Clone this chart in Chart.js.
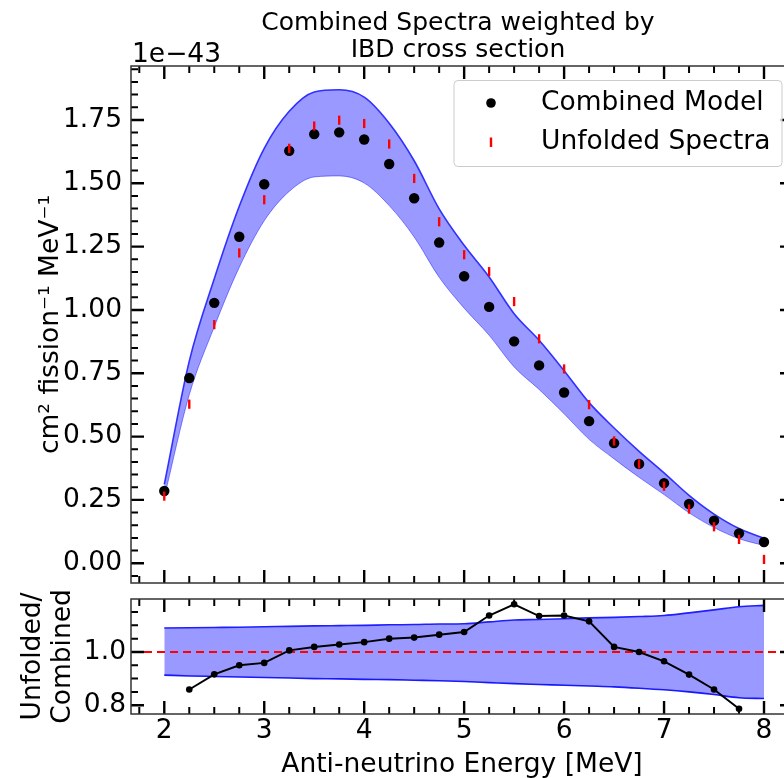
<!DOCTYPE html>
<html>
<head>
<meta charset="utf-8">
<script src="https://cdn.jsdelivr.net/npm/chart.js@4.4.1/dist/chart.umd.min.js"></script>
<style>
  html, body { margin: 0; padding: 0; background: #fff; overflow: hidden; }
  #wrap { position: relative; width: 784px; height: 778px; overflow: hidden; }
  #spectra { position: absolute; left: 0; top: 0; }
  #ratio { position: absolute; left: 0; top: 590px; }
</style>
</head>
<body>
<div id="wrap">
  <canvas id="spectra" width="800" height="590" style="width:800px;height:590px"></canvas>
  <canvas id="ratio" width="800" height="196" style="width:800px;height:196px"></canvas>
</div>
<script>
// energies in MeV, spectra in units of 1e-43 cm^2 fission^-1 MeV^-1
const energies = [2.0, 2.25, 2.5, 2.75, 3.0, 3.25, 3.5, 3.75, 4.0, 4.25, 4.5, 4.75, 5.0,
  5.25, 5.5, 5.75, 6.0, 6.25, 6.5, 6.75, 7.0, 7.25, 7.5, 7.75, 8.0];
const combinedModel = [0.285, 0.731, 1.028, 1.289, 1.496, 1.628, 1.694, 1.701, 1.673, 1.576,
  1.441, 1.266, 1.133, 1.012, 0.876, 0.781, 0.674, 0.561, 0.474, 0.392, 0.316, 0.234,
  0.168, 0.118, 0.084];
const unfoldedSpectra = [0.265, 0.628, 0.942, 1.225, 1.435, 1.638, 1.726, 1.749, 1.736, 1.655,
  1.519, 1.348, 1.218, 1.151, 1.033, 0.886, 0.767, 0.626, 0.483, 0.392, 0.304, 0.214,
  0.144, 0.094, 0.015];
const bandUpper = [0.311, 0.798, 1.123, 1.409, 1.638, 1.784, 1.860, 1.869, 1.840, 1.737,
  1.589, 1.399, 1.255, 1.130, 0.985, 0.880, 0.760, 0.634, 0.534, 0.442, 0.357, 0.268,
  0.194, 0.137, 0.099];
const bandLower = [0.260, 0.665, 0.933, 1.168, 1.352, 1.468, 1.525, 1.529, 1.501, 1.412,
  1.288, 1.129, 1.007, 0.900, 0.775, 0.686, 0.590, 0.489, 0.412, 0.339, 0.271, 0.199,
  0.141, 0.097, 0.070];

const ratioEnergies = [2.25, 2.5, 2.75, 3.0, 3.25, 3.5, 3.75, 4.0, 4.25, 4.5, 4.75, 5.0,
  5.25, 5.5, 5.75, 6.0, 6.25, 6.5, 6.75, 7.0, 7.25, 7.5, 7.75];
const ratioValues = [0.859, 0.916, 0.950, 0.959, 1.006, 1.019, 1.028, 1.037, 1.050, 1.054,
  1.065, 1.075, 1.137, 1.179, 1.135, 1.137, 1.115, 1.019, 1.000, 0.965, 0.915, 0.859, 0.787];
const ratioBandUpper = [1.090, 1.091, 1.092, 1.093, 1.095, 1.096, 1.098, 1.099, 1.100, 1.102,
  1.103, 1.105, 1.106, 1.113, 1.120, 1.122, 1.125, 1.128, 1.130, 1.133, 1.137, 1.147,
  1.158, 1.170, 1.175];
const ratioBandLower = [0.913, 0.910, 0.908, 0.906, 0.904, 0.902, 0.900, 0.899, 0.897, 0.896,
  0.894, 0.892, 0.889, 0.885, 0.881, 0.878, 0.875, 0.872, 0.869, 0.864, 0.858, 0.850,
  0.840, 0.828, 0.825];
const ratioReference = 1.0;

const energyTicks = [2, 3, 4, 5, 6, 7, 8];
const spectraTicks = [0, 0.25, 0.5, 0.75, 1.0, 1.25, 1.5, 1.75];
const ratioTicks = [0.8, 1.0];

const X_MIN = 1.667, X_MAX = 8.29;
const FONT = 'DejaVu Sans';
const FS = 26.5;

function toXY(xs, ys) {
  return xs.map((x, i) => ({ x: x, y: ys[i] }));
}

function noPadding(s) {
  s.paddingTop = 0; s.paddingBottom = 0; s.paddingLeft = 0; s.paddingRight = 0;
}

// inward ticks on all four sides plus the frame, matplotlib style
function frameTicks(xMinor, yMinor, yMajorEvery) {
  return {
    id: 'frameTicks',
    afterDatasetsDraw(chart) {
      const { ctx, chartArea: a, scales: { x, y } } = chart;
      ctx.save();
      ctx.strokeStyle = '#000';
      for (let i = Math.ceil(x.min / xMinor); i * xMinor <= x.max; i++) {
        const px = x.getPixelForValue(i * xMinor);
        const major = i % 4 === 0;
        const len = major ? 13 : 7;
        ctx.lineWidth = major ? 2.4 : 2;
        ctx.beginPath();
        ctx.moveTo(px, a.bottom); ctx.lineTo(px, a.bottom - len);
        ctx.moveTo(px, a.top); ctx.lineTo(px, a.top + len);
        ctx.stroke();
      }
      for (let i = Math.ceil(y.min / yMinor - 1e-6); i * yMinor <= y.max + 1e-9; i++) {
        const py = y.getPixelForValue(i * yMinor);
        const major = i % yMajorEvery === 0;
        const len = major ? 13 : 7;
        ctx.lineWidth = major ? 2.4 : 2;
        ctx.beginPath();
        ctx.moveTo(a.left, py); ctx.lineTo(a.left + len, py);
        ctx.moveTo(a.right, py); ctx.lineTo(a.right - len, py);
        ctx.stroke();
      }
      ctx.strokeStyle = '#333';
      ctx.lineWidth = 1.5;
      ctx.strokeRect(a.left, a.top, a.right - a.left, a.bottom - a.top);
      ctx.restore();
    }
  };
}

const headerText = {
  id: 'headerText',
  afterDraw(chart) {
    const { ctx, chartArea: a } = chart;
    ctx.save();
    ctx.fillStyle = '#000';
    ctx.textAlign = 'center';
    ctx.textBaseline = 'alphabetic';
    ctx.font = '25px "' + FONT + '"';
    const cx = (a.left + a.right) / 2 - 4;
    ctx.fillText('Combined Spectra weighted by', cx, 30);
    ctx.fillText('IBD cross section', cx, 57);
    ctx.textAlign = 'left';
    ctx.font = FS + 'px "' + FONT + '"';
    ctx.fillText('1e\u221243', a.left + 1, 62);
    ctx.restore();
  }
};

const legendBox = {
  id: 'legendBox',
  afterDraw(chart) {
    const { ctx, chartArea: a } = chart;
    const right = a.right - 11, left = right - 328, top = 80.5, h = 86;
    ctx.save();
    ctx.beginPath();
    ctx.roundRect(left, top, right - left, h, 4);
    ctx.fillStyle = 'rgba(255,255,255,0.8)';
    ctx.fill();
    ctx.strokeStyle = '#cccccc';
    ctx.lineWidth = 1;
    ctx.stroke();
    ctx.fillStyle = '#000';
    ctx.beginPath();
    ctx.arc(left + 37, 103, 4.8, 0, Math.PI * 2);
    ctx.fill();
    ctx.strokeStyle = '#ff0000';
    ctx.lineWidth = 2.4;
    ctx.beginPath();
    ctx.moveTo(left + 37, 137.5); ctx.lineTo(left + 37, 147);
    ctx.stroke();
    ctx.font = FS + 'px "' + FONT + '"';
    ctx.textBaseline = 'middle';
    ctx.textAlign = 'left';
    ctx.fillText('Combined Model', left + 87, 103);
    ctx.fillText('Unfolded Spectra', left + 87, 142);
    ctx.restore();
  }
};

new Chart(document.getElementById('spectra'), {
  type: 'line',
  data: {
    datasets: [
      {
        label: 'Unfolded Spectra',
        data: toXY(energies, unfoldedSpectra),
        showLine: false,
        pointStyle: 'line',
        pointRotation: 90,
        pointRadius: 4.6,
        pointBorderWidth: 2.4,
        pointBorderColor: '#ff0000',
        borderColor: '#ff0000',
        order: 0
      },
      {
        label: 'Combined Model',
        data: toXY(energies, combinedModel),
        showLine: false,
        pointStyle: 'circle',
        pointRadius: 5.2,
        pointBorderWidth: 0,
        pointBackgroundColor: '#000',
        order: 1
      },
      {
        label: 'upper',
        data: toXY(energies, bandUpper),
        borderColor: 'rgba(40,40,255,0.95)',
        borderWidth: 1.6,
        pointRadius: 0,
        cubicInterpolationMode: 'monotone',
        fill: '+1',
        backgroundColor: 'rgba(0,0,255,0.4)',
        order: 2
      },
      {
        label: 'lower',
        data: toXY(energies, bandLower),
        borderColor: 'rgba(60,60,255,0.55)',
        borderWidth: 1,
        pointRadius: 0,
        cubicInterpolationMode: 'monotone',
        fill: false,
        order: 3
      }
    ]
  },
  options: {
    responsive: false,
    animation: false,
    layout: { padding: { top: 66, right: 7, left: 0, bottom: 0 } },
    plugins: { legend: { display: false }, tooltip: { enabled: false } },
    scales: {
      x: {
        type: 'linear', min: X_MIN, max: X_MAX, bounds: 'data',
        grid: { display: false, drawTicks: false },
        border: { display: false },
        ticks: { display: false },
        afterFit(s) { s.height = 7; noPadding(s); }
      },
      y: {
        type: 'linear', min: -0.078, max: 1.963, bounds: 'data',
        grid: { display: false, drawTicks: false },
        border: { display: false },
        ticks: {
          color: '#000', padding: 9,
          font: { family: FONT, size: FS },
          callback: v => v.toFixed(2)
        },
        afterBuildTicks(s) { s.ticks = spectraTicks.map(v => ({ value: v })); },
        afterFit(s) { s.width = 131; noPadding(s); },
        title: {
          display: true,
          text: 'cm\u00b2 fission\u207b\u00b9 MeV\u207b\u00b9',
          color: '#000',
          font: { family: FONT, size: FS },
          padding: { top: 35, bottom: 0 }
        }
      }
    }
  },
  plugins: [frameTicks(0.25, 0.05, 5), headerText, legendBox]
});

new Chart(document.getElementById('ratio'), {
  type: 'line',
  data: {
    datasets: [
      {
        label: 'ratio',
        data: toXY(ratioEnergies, ratioValues),
        borderColor: '#000',
        borderWidth: 2,
        pointRadius: 3.3,
        pointBorderWidth: 0,
        pointBackgroundColor: '#000',
        tension: 0,
        order: 0
      },
      {
        label: 'reference',
        data: [{ x: X_MIN, y: ratioReference }, { x: X_MAX, y: ratioReference }],
        borderColor: '#ff0000',
        borderWidth: 2,
        borderDash: [8, 5],
        pointRadius: 0,
        order: 1
      },
      {
        label: 'upper',
        data: toXY(energies, ratioBandUpper),
        borderColor: 'rgb(30,30,255)',
        borderWidth: 1.6,
        pointRadius: 0,
        cubicInterpolationMode: 'monotone',
        fill: '+1',
        backgroundColor: 'rgba(0,0,255,0.4)',
        order: 2
      },
      {
        label: 'lower',
        data: toXY(energies, ratioBandLower),
        borderColor: 'rgb(30,30,255)',
        borderWidth: 1.6,
        pointRadius: 0,
        cubicInterpolationMode: 'monotone',
        fill: false,
        order: 3
      }
    ]
  },
  options: {
    responsive: false,
    animation: false,
    layout: { padding: { top: 9, right: 7, left: 0, bottom: 0 } },
    plugins: { legend: { display: false }, tooltip: { enabled: false } },
    scales: {
      x: {
        type: 'linear', min: X_MIN, max: X_MAX, bounds: 'data',
        grid: { display: false, drawTicks: false },
        border: { display: false },
        ticks: {
          color: '#000', padding: 1, maxRotation: 0,
          font: { family: FONT, size: FS },
          callback: v => String(v)
        },
        afterBuildTicks(s) { s.ticks = energyTicks.map(v => ({ value: v })); },
        afterFit(s) { s.height = 72; noPadding(s); },
        title: {
          display: true,
          text: 'Anti-neutrino Energy [MeV]',
          color: '#000',
          font: { family: FONT, size: FS },
          padding: { top: 0, bottom: 5 }
        }
      },
      y: {
        type: 'linear', min: 0.767, max: 1.199, bounds: 'data',
        grid: { display: false, drawTicks: false },
        border: { display: false },
        ticks: {
          color: '#000', padding: 5,
          font: { family: FONT, size: FS },
          callback: v => v.toFixed(1)
        },
        afterBuildTicks(s) { s.ticks = ratioTicks.map(v => ({ value: v })); },
        afterFit(s) { s.width = 131; noPadding(s); },
        title: {
          display: true,
          text: ['Unfolded/', 'Combined'],
          color: '#000',
          font: { family: FONT, size: FS, lineHeight: 1.1 },
          padding: { top: 19, bottom: 0 }
        }
      }
    }
  },
  plugins: [frameTicks(0.25, 0.05, 4)]
});
</script>
</body>
</html>
